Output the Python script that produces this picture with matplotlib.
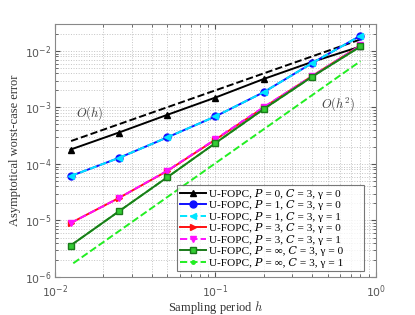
import matplotlib
matplotlib.use('Agg')
import matplotlib.pyplot as plt
from matplotlib.ticker import LogLocator, NullFormatter

# sampling periods
h = [0.0125, 0.025, 0.05, 0.1, 0.2, 0.4, 0.8]

# asymptotic worst-case error per controller configuration
err_p0 = [1.8e-4, 3.6e-4, 7.4e-4, 1.5e-3, 3.2e-3, 6.4e-3, 1.2e-2]
err_p1_g0 = [6.1e-5, 1.28e-4, 2.95e-4, 6.95e-4, 1.87e-3, 6.1e-3, 1.86e-2]
err_p1_g1 = [6.1e-5, 1.28e-4, 2.95e-4, 6.95e-4, 1.87e-3, 6.1e-3, 1.86e-2]
err_p3_g0 = [9.0e-6, 2.5e-5, 7.5e-5, 2.7e-4, 1.0e-3, 3.6e-3, 1.25e-2]
err_p3_g1 = [9.0e-6, 2.5e-5, 7.6e-5, 2.75e-4, 1.02e-3, 3.6e-3, 1.25e-2]
err_pinf_g0 = [3.6e-6, 1.45e-5, 5.8e-5, 2.35e-4, 9.4e-4, 3.5e-3, 1.2e-2]
err_pinf_g1 = [3.6e-6, 1.45e-5, 5.8e-5, 2.35e-4, 9.4e-4, 3.5e-3, 1.2e-2]

# reference slopes
h_ref1 = [0.0126, 0.8]
y_ref1 = [2.55e-4, 1.6e-2]
h_ref2 = [0.013, 0.8]
y_ref2 = [1.75e-6, 6.6e-3]

labels = ['U-FOPC, \U0001D443 = 0, \U0001D436 = 3, \u03b3 = 0',
          'U-FOPC, \U0001D443 = 1, \U0001D436 = 3, \u03b3 = 0',
          'U-FOPC, \U0001D443 = 1, \U0001D436 = 3, \u03b3 = 1',
          'U-FOPC, \U0001D443 = 3, \U0001D436 = 3, \u03b3 = 0',
          'U-FOPC, \U0001D443 = 3, \U0001D436 = 3, \u03b3 = 1',
          'U-FOPC, \U0001D443 = \u221e, \U0001D436 = 3, \u03b3 = 0',
          'U-FOPC, \U0001D443 = \u221e, \U0001D436 = 3, \u03b3 = 1']

plt.rcParams['mathtext.fontset'] = 'cm'
plt.rcParams['font.family'] = 'DejaVu Sans'

fig = plt.figure(figsize=(4.15, 3.15), dpi=100)
ax = fig.add_axes([0.1325, 0.1206, 0.7735, 0.8032])

ax.plot(h_ref1, y_ref1, '--', color='black', lw=1.4)
ax.plot(h_ref2, y_ref2, '--', color='#22ee22', lw=1.4)

ax.plot(h, err_p0, '-', color='black', marker='^', ms=5, lw=1.4, label=labels[0])
ax.plot(h, err_p1_g0, '-', color='#1010ff', marker='o', ms=5, lw=1.4, label=labels[1])
ax.plot(h, err_p1_g1, '--', color='#00e5ff', marker='<', ms=5, lw=1.4, label=labels[2])
ax.plot(h, err_p3_g0, '-', color='#ff1010', marker='>', ms=5, lw=1.4, label=labels[3])
ax.plot(h, err_p3_g1, '--', color='#ff10ff', marker='v', ms=5, lw=1.4, label=labels[4])
ax.plot(h, err_pinf_g1, '--', color='#22ee22', marker='.', ms=5, lw=1.4, label=labels[6], zorder=2)
ax.plot(h, err_pinf_g0, '-', color='#1a7a1a', marker='s', ms=4.5, mfc='#33cc33', lw=1.4, label=labels[5], zorder=3)

ax.set_xscale('log')
ax.set_yscale('log')
ax.set_xlim(1e-2, 1)
ax.set_ylim(1e-6, 3e-2)

ax.xaxis.set_minor_locator(LogLocator(base=10, subs=range(2, 10)))
ax.yaxis.set_minor_locator(LogLocator(base=10, subs=range(2, 10)))
ax.xaxis.set_minor_formatter(NullFormatter())
ax.yaxis.set_minor_formatter(NullFormatter())
ax.grid(True, which='both', linestyle=':', color='#c4c4c4', lw=0.7)
ax.tick_params(which='both', direction='in', top=True, right=True, colors='#555555', labelsize=7.8)
ax.tick_params(axis='x', pad=4.5)
ax.tick_params(axis='y', pad=2.5)
for s in ax.spines.values():
    s.set_color('#888888')

ax.text(0.0165, 8.1e-4, r'$O(h)$', fontsize=9, color='#444444', ha='center', va='center')
ax.text(0.58, 1.16e-3, r'$O(h^2)$', fontsize=9, color='#444444', ha='center', va='center')

ax.set_xlabel(r'Sampling period $h$', family='Liberation Serif', fontsize=9, color='#333333', va='center')
ax.xaxis.set_label_coords(0.5, -0.122)
ax.set_ylabel('Asymptotical worst-case error', family='Liberation Serif', fontsize=9, color='#333333', labelpad=3)

handles, labs = ax.get_legend_handles_labels()
order = [0, 1, 2, 3, 4, 6, 5]
leg = ax.legend([handles[i] for i in order], [labs[i] + '      ' for i in order], loc='lower right',
                bbox_to_anchor=(0.963, 0.024), borderaxespad=0,
                frameon=True, fancybox=False, edgecolor='#555555',
                handlelength=2.3, handletextpad=0.3, borderpad=0.3, labelspacing=0.13,
                prop={'family': ['Liberation Serif', 'DejaVu Serif', 'DejaVu Sans'], 'size': 8.1})
leg.get_frame().set_linewidth(0.8)

fig.savefig('out.png', dpi=100)
